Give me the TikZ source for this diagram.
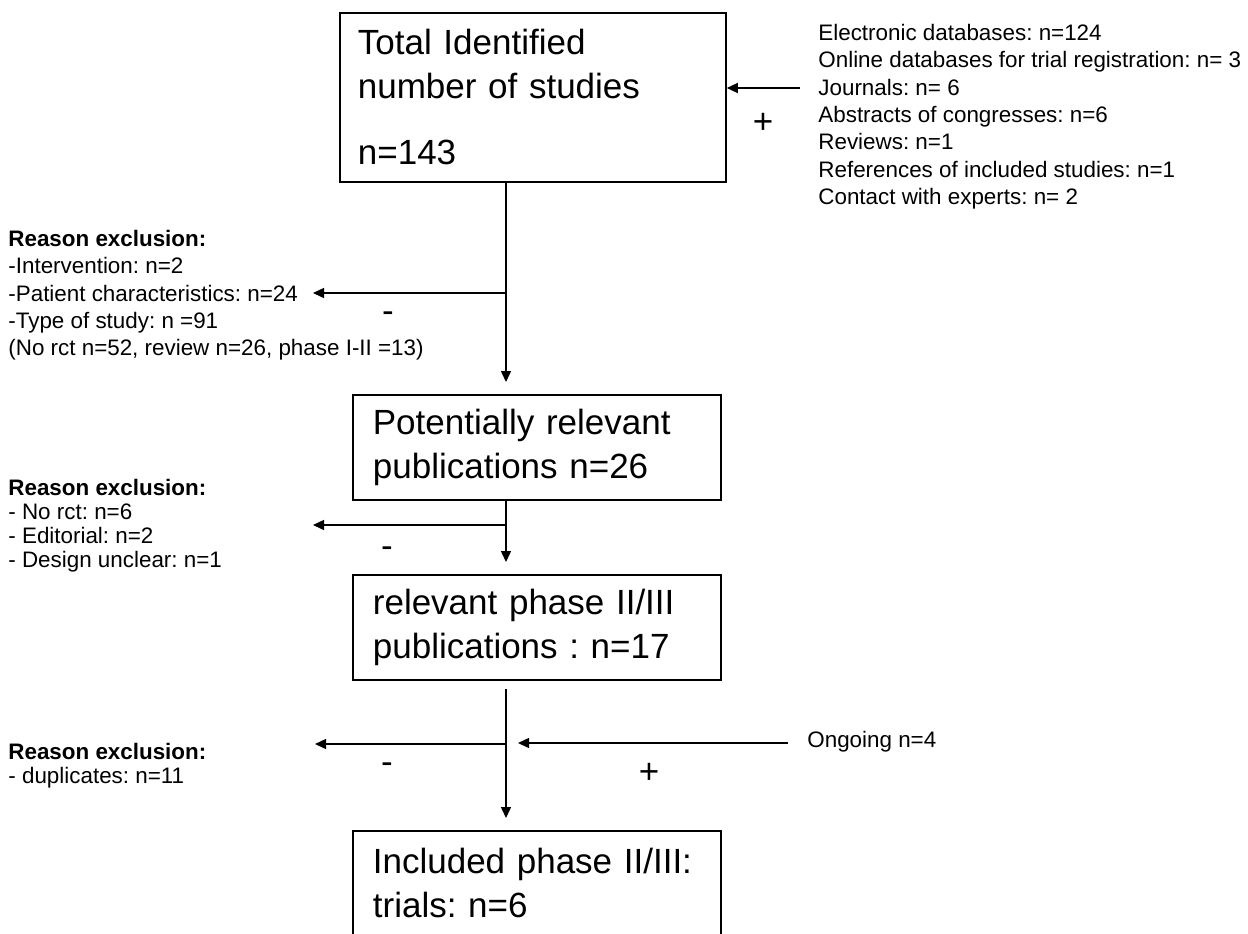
\documentclass[tikz,border=0pt]{standalone}
\usepackage{fontspec}
\setmainfont{Liberation Sans}
\usetikzlibrary{arrows.meta,calc}

\newcommand{\boxfont}{\fontsize{17.5}{22}\selectfont}
\newcommand{\notefont}{\fontsize{11.2}{13.65}\selectfont}
\newcommand{\shortfont}{\fontsize{11.2}{11.9}\selectfont}
\frenchspacing

\begin{document}
\begin{tikzpicture}[x=0.5pt, y=-0.5pt,
    stagebox/.style={draw, line width=0.9pt, anchor=north west, align=left, inner ysep=0pt, font=\boxfont},
    note/.style={anchor=north west, align=left, inner sep=0pt, font=\notefont},
    flow/.style={line width=0.7pt, -{Triangle[length=5.5pt, width=5pt]}},
    sign/.style={font=\boxfont}]
  \clip (0,0) rectangle (1248,933);
  \fill[white] (0,0) rectangle (1248,933);

  \node[stagebox, inner xsep=9pt, text width=175pt, minimum height=84.5pt] (total) at (339,12) {Total Identified\\number of studies\\[11pt]n=143};
  \node[stagebox, inner xsep=10pt, text width=164pt, minimum height=52.5pt] (relevant) at (352,394) {Potentially relevant\\publications n=26};
  \node[stagebox, inner xsep=10pt, text width=164pt, minimum height=52.5pt] (phase) at (352,574) {relevant phase II/III\\publications : n=17};
  \node[stagebox, inner xsep=10pt, text width=164pt, minimum height=52.5pt] (included) at (352,830) {Included phase II/III:\\trials: n=6};

  \node[note] (sources) at (818,24) {Electronic databases: n=124\\Online databases for trial registration: n= 3\\Journals: n= 6\\Abstracts of congresses: n=6\\Reviews: n=1\\References of included studies: n=1\\Contact with experts: n= 2};
  \node[note] (excl1) at (8,230) {\textbf{Reason exclusion:}\\-Intervention: n=2\\-Patient characteristics: n=24\\-Type of study: n =91\\(No rct n=52, review n=26, phase I-II =13)};
  \node[note, font=\shortfont] (excl2) at (8,479) {\textbf{Reason exclusion:}\\- No rct: n=6\\- Editorial: n=2\\- Design unclear: n=1};
  \node[note, font=\shortfont] (excl3) at (8,743) {\textbf{Reason exclusion:}\\- duplicates: n=11};
  \node[note, anchor=west] (ongoing) at (807,742) {Ongoing n=4};

  \coordinate (in1) at (800,88);
  \coordinate (b1) at (506,293);
  \coordinate (t1) at (313,293);
  \coordinate (b2) at (506,525);
  \coordinate (t2) at (313,525);
  \coordinate (s3) at (506,689);
  \coordinate (b3) at (506,744);
  \coordinate (t3) at (315,744);
  \coordinate (in2) at (788,743);
  \coordinate (t4) at (518,743);

  \draw[flow] (in1) -- (in1 -| total.east);
  \draw[flow] (total.south -| b1) -- ($(relevant.north -| b1)+(0,-12)$);
  \draw[flow] (b1) -- (t1);
  \draw[flow] (relevant.south -| b2) -- ($(phase.north -| b2)+(0,-12)$);
  \draw[flow] (b2) -- (t2);
  \draw[flow] (s3) -- ($(included.north -| s3)+(0,-12)$);
  \draw[flow] (b3) -- (t3);
  \draw[flow] (in2) -- (t4);

  \node[sign] (plus1) at (763,123) {+};
  \node[sign] (minus1) at (388,317) {-};
  \node[sign] (minus2) at (387,552) {-};
  \node[sign] (minus3) at (387,768) {-};
  \node[sign] (plus2) at (649,773) {+};
\end{tikzpicture}
\end{document}
